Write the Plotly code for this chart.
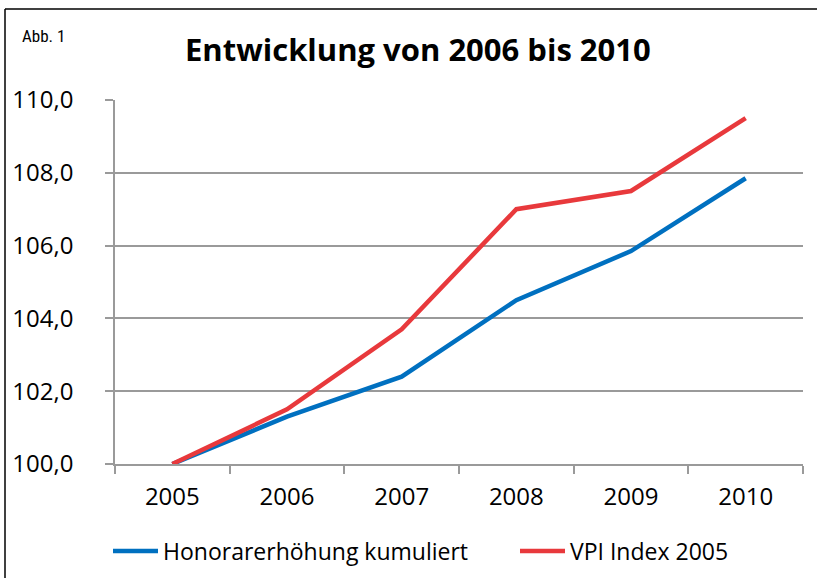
import plotly.graph_objects as go

# ---- data ----
years = ["2005", "2006", "2007", "2008", "2009", "2010"]
honorar = [100.0, 101.3, 102.4, 104.5, 105.85, 107.85]
vpi = [100.0, 101.5, 103.7, 107.0, 107.5, 109.5]
series_names = ["Honorarerhöhung kumuliert", "VPI Index 2005"]
y_ticks = [100, 102, 104, 106, 108, 110]

W, H = 817, 578
L, R, T, B = 115, 14, 100, 114
PW, PH = W - L - R, H - T - B


def fx(p):
    return (p - L) / PW


def fy(p):
    return (H - B - p) / PH


FONT = "Open Sans, Noto Sans, Lato, sans-serif"
GRID = "#9a9a9a"

fig = go.Figure()
fig.add_trace(go.Scatter(x=years, y=honorar, name=series_names[0], mode="lines",
                         line=dict(color="#0070C0", width=4.5), legend="legend"))
fig.add_trace(go.Scatter(x=years, y=vpi, name=series_names[1], mode="lines",
                         line=dict(color="#E8393C", width=4.5), legend="legend2"))

legend_common = dict(orientation="h", xanchor="left", y=fy(551), yanchor="middle",
                     font=dict(family=FONT, size=23, color="#000"),
                     itemwidth=45, bgcolor="rgba(0,0,0,0)")

fig.update_layout(
    width=W, height=H,
    margin=dict(l=L, r=R, t=T, b=B, autoexpand=False),
    paper_bgcolor="white", plot_bgcolor="white",
    separators=",.",
    font=dict(family=FONT, size=24, color="#000000"),
    showlegend=True,
    legend=dict(x=fx(108), **legend_common),
    legend2=dict(x=fx(515), **legend_common),
    xaxis=dict(type="category", range=[-0.5, 5.5], tickson="boundaries",
               ticks="outside", ticklen=8, tickcolor=GRID, tickwidth=1.5,
               showline=True, linecolor=GRID, linewidth=1.5, showgrid=False,
               tickfont=dict(family=FONT, size=24), ticklabelstandoff=10,
               fixedrange=True),
    yaxis=dict(range=[100, 110], tickvals=y_ticks, tickformat=".1f",
               ticks="outside", ticklen=8, tickcolor=GRID, tickwidth=1.5,
               showline=True, linecolor=GRID, linewidth=1.5,
               showgrid=True, gridcolor=GRID, gridwidth=1.5, zeroline=False,
               tickfont=dict(family=FONT, size=24), ticklabelstandoff=27,
               fixedrange=True),
)

# title and figure label
fig.add_annotation(text="<b>Entwicklung von 2006 bis 2010</b>", xref="paper", yref="paper",
                   x=fx(418), y=fy(49), xanchor="center", yanchor="middle", showarrow=False,
                   font=dict(family=FONT, size=31, color="#000"))
fig.add_annotation(text="Abb. 1", xref="paper", yref="paper",
                   x=fx(20), y=fy(36), xanchor="left", yanchor="middle", showarrow=False,
                   font=dict(family="Liberation Sans Narrow, Roboto Condensed, DejaVu Sans Condensed, sans-serif",
                             size=17, color="#000"))

# chart frame (cropped at right and bottom)
fig.add_shape(type="line", xref="paper", yref="paper", x0=fx(5), x1=fx(W + 5), y0=fy(9), y1=fy(9),
              line=dict(color="#000", width=1.5))
fig.add_shape(type="line", xref="paper", yref="paper", x0=fx(5), x1=fx(5), y0=fy(9), y1=fy(H + 5),
              line=dict(color="#000", width=1.5))

fig.write_html("out.html", config={"displayModeBar": False},
               post_script="document.body.style.margin='0';")
